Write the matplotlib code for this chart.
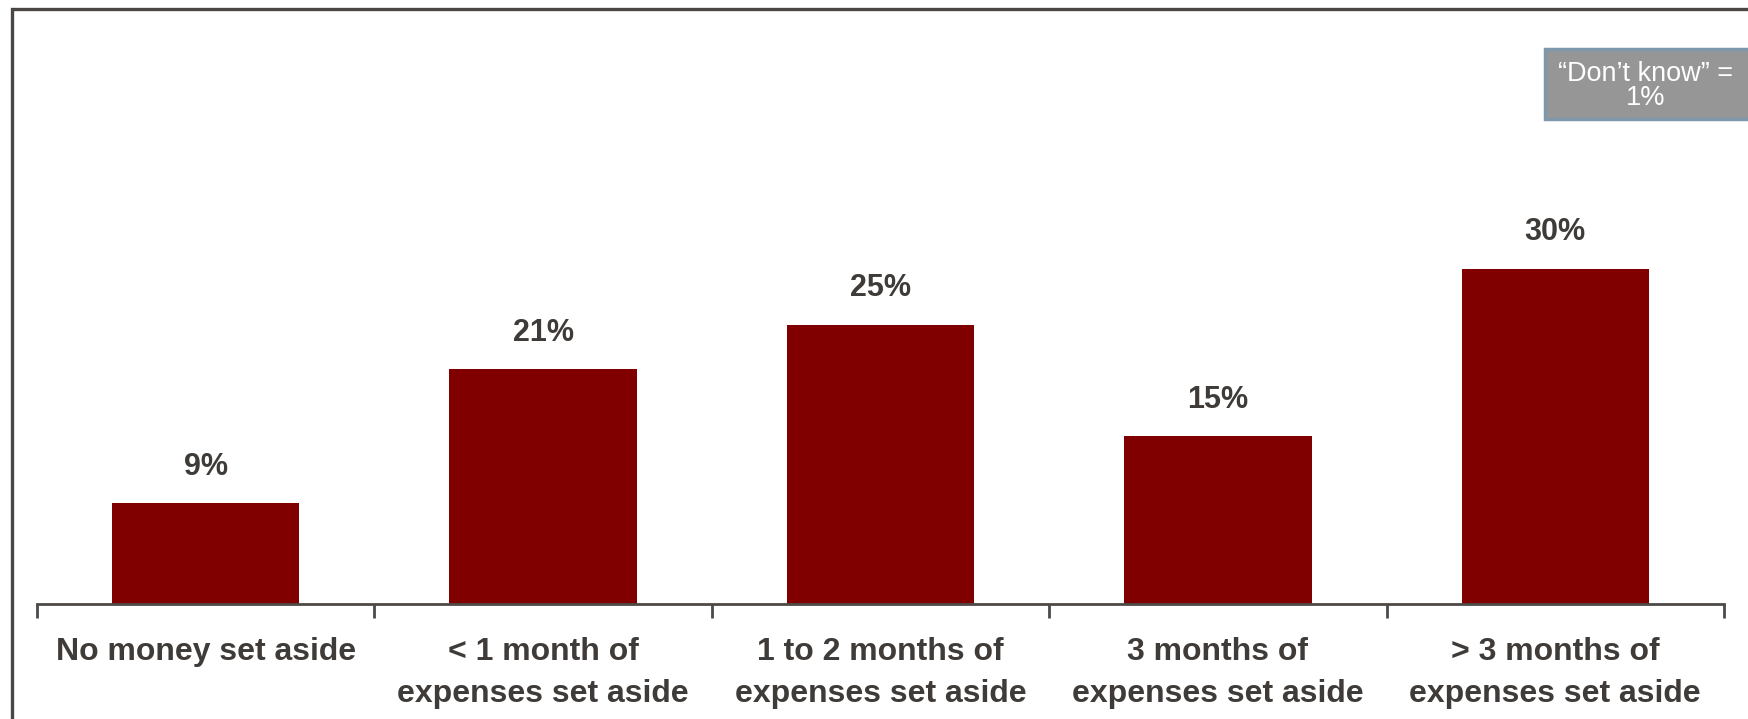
import matplotlib
matplotlib.use("Agg")
import matplotlib.pyplot as plt
from matplotlib.patches import Rectangle
import numpy as np

categories = [
    "No money set aside",
    "< 1 month of\nexpenses set aside",
    "1 to 2 months of\nexpenses set aside",
    "3 months of\nexpenses set aside",
    "> 3 months of\nexpenses set aside",
]
values = [9, 21, 25, 15, 30]
value_labels = ["9%", "21%", "25%", "15%", "30%"]
dont_know_text = "\u201cDon\u2019t know\u201d =\n1%"

W, H, DPI = 1749, 719, 100
BAR = "#800000"
TEXT = "#3f3b38"
AXIS = "#4d4946"

plt.rcParams["font.family"] = ["Liberation Sans", "DejaVu Sans"]

fig = plt.figure(figsize=(W / DPI, H / DPI), dpi=DPI)

# outer frame, open at the right and bottom
fig.add_artist(Rectangle((12 / W, -0.1), 1.2, 1 - 9.5 / H + 0.1,
                         transform=fig.transFigure, fill=False,
                         edgecolor="#4a4643", linewidth=2.4))

ax_left, ax_right, ax_bottom, ax_top = 37, 1724, 604, 45.5
ax = fig.add_axes([ax_left / W, (H - ax_bottom) / H,
                   (ax_right - ax_left) / W, (ax_bottom - ax_top) / H])

x = np.arange(len(categories))
ax.bar(x, values, width=0.556, color=BAR, zorder=2)
ax.set_xlim(-0.5, len(categories) - 0.5)
ax.set_ylim(0, 50)

for xi, v, lab in zip(x, values, value_labels):
    ax.annotate(lab, (xi, v), xytext=(0, 26.5), textcoords="offset points",
                ha="center", va="center", fontsize=22, fontweight="bold",
                color=TEXT)

for s in ("top", "left", "right"):
    ax.spines[s].set_visible(False)
ax.spines["bottom"].set_color(AXIS)
ax.spines["bottom"].set_linewidth(2)
ax.set_yticks([])

ax.set_xticks(x)
ax.set_xticklabels(categories, fontsize=23, fontweight="bold", color=TEXT,
                   linespacing=1.5, va="top")
ax.tick_params(axis="x", which="major", length=0, pad=24)
ax.set_xticks(np.arange(-0.5, len(categories)), minor=True)
ax.tick_params(axis="x", which="minor", length=10, width=2, color=AXIS)

# "Don't know" note box
fig.add_artist(Rectangle((1545 / W, (H - 118.5) / H), 230 / W, 69 / H,
                         transform=fig.transFigure, facecolor="#969696",
                         edgecolor="#7f97aa", linewidth=2.5))
fig.text(1646 / W, (H - 86) / H, dont_know_text, ha="center", va="center",
         fontsize=19.5, color="white", linespacing=0.88)

fig.savefig("out.png", dpi=DPI)
